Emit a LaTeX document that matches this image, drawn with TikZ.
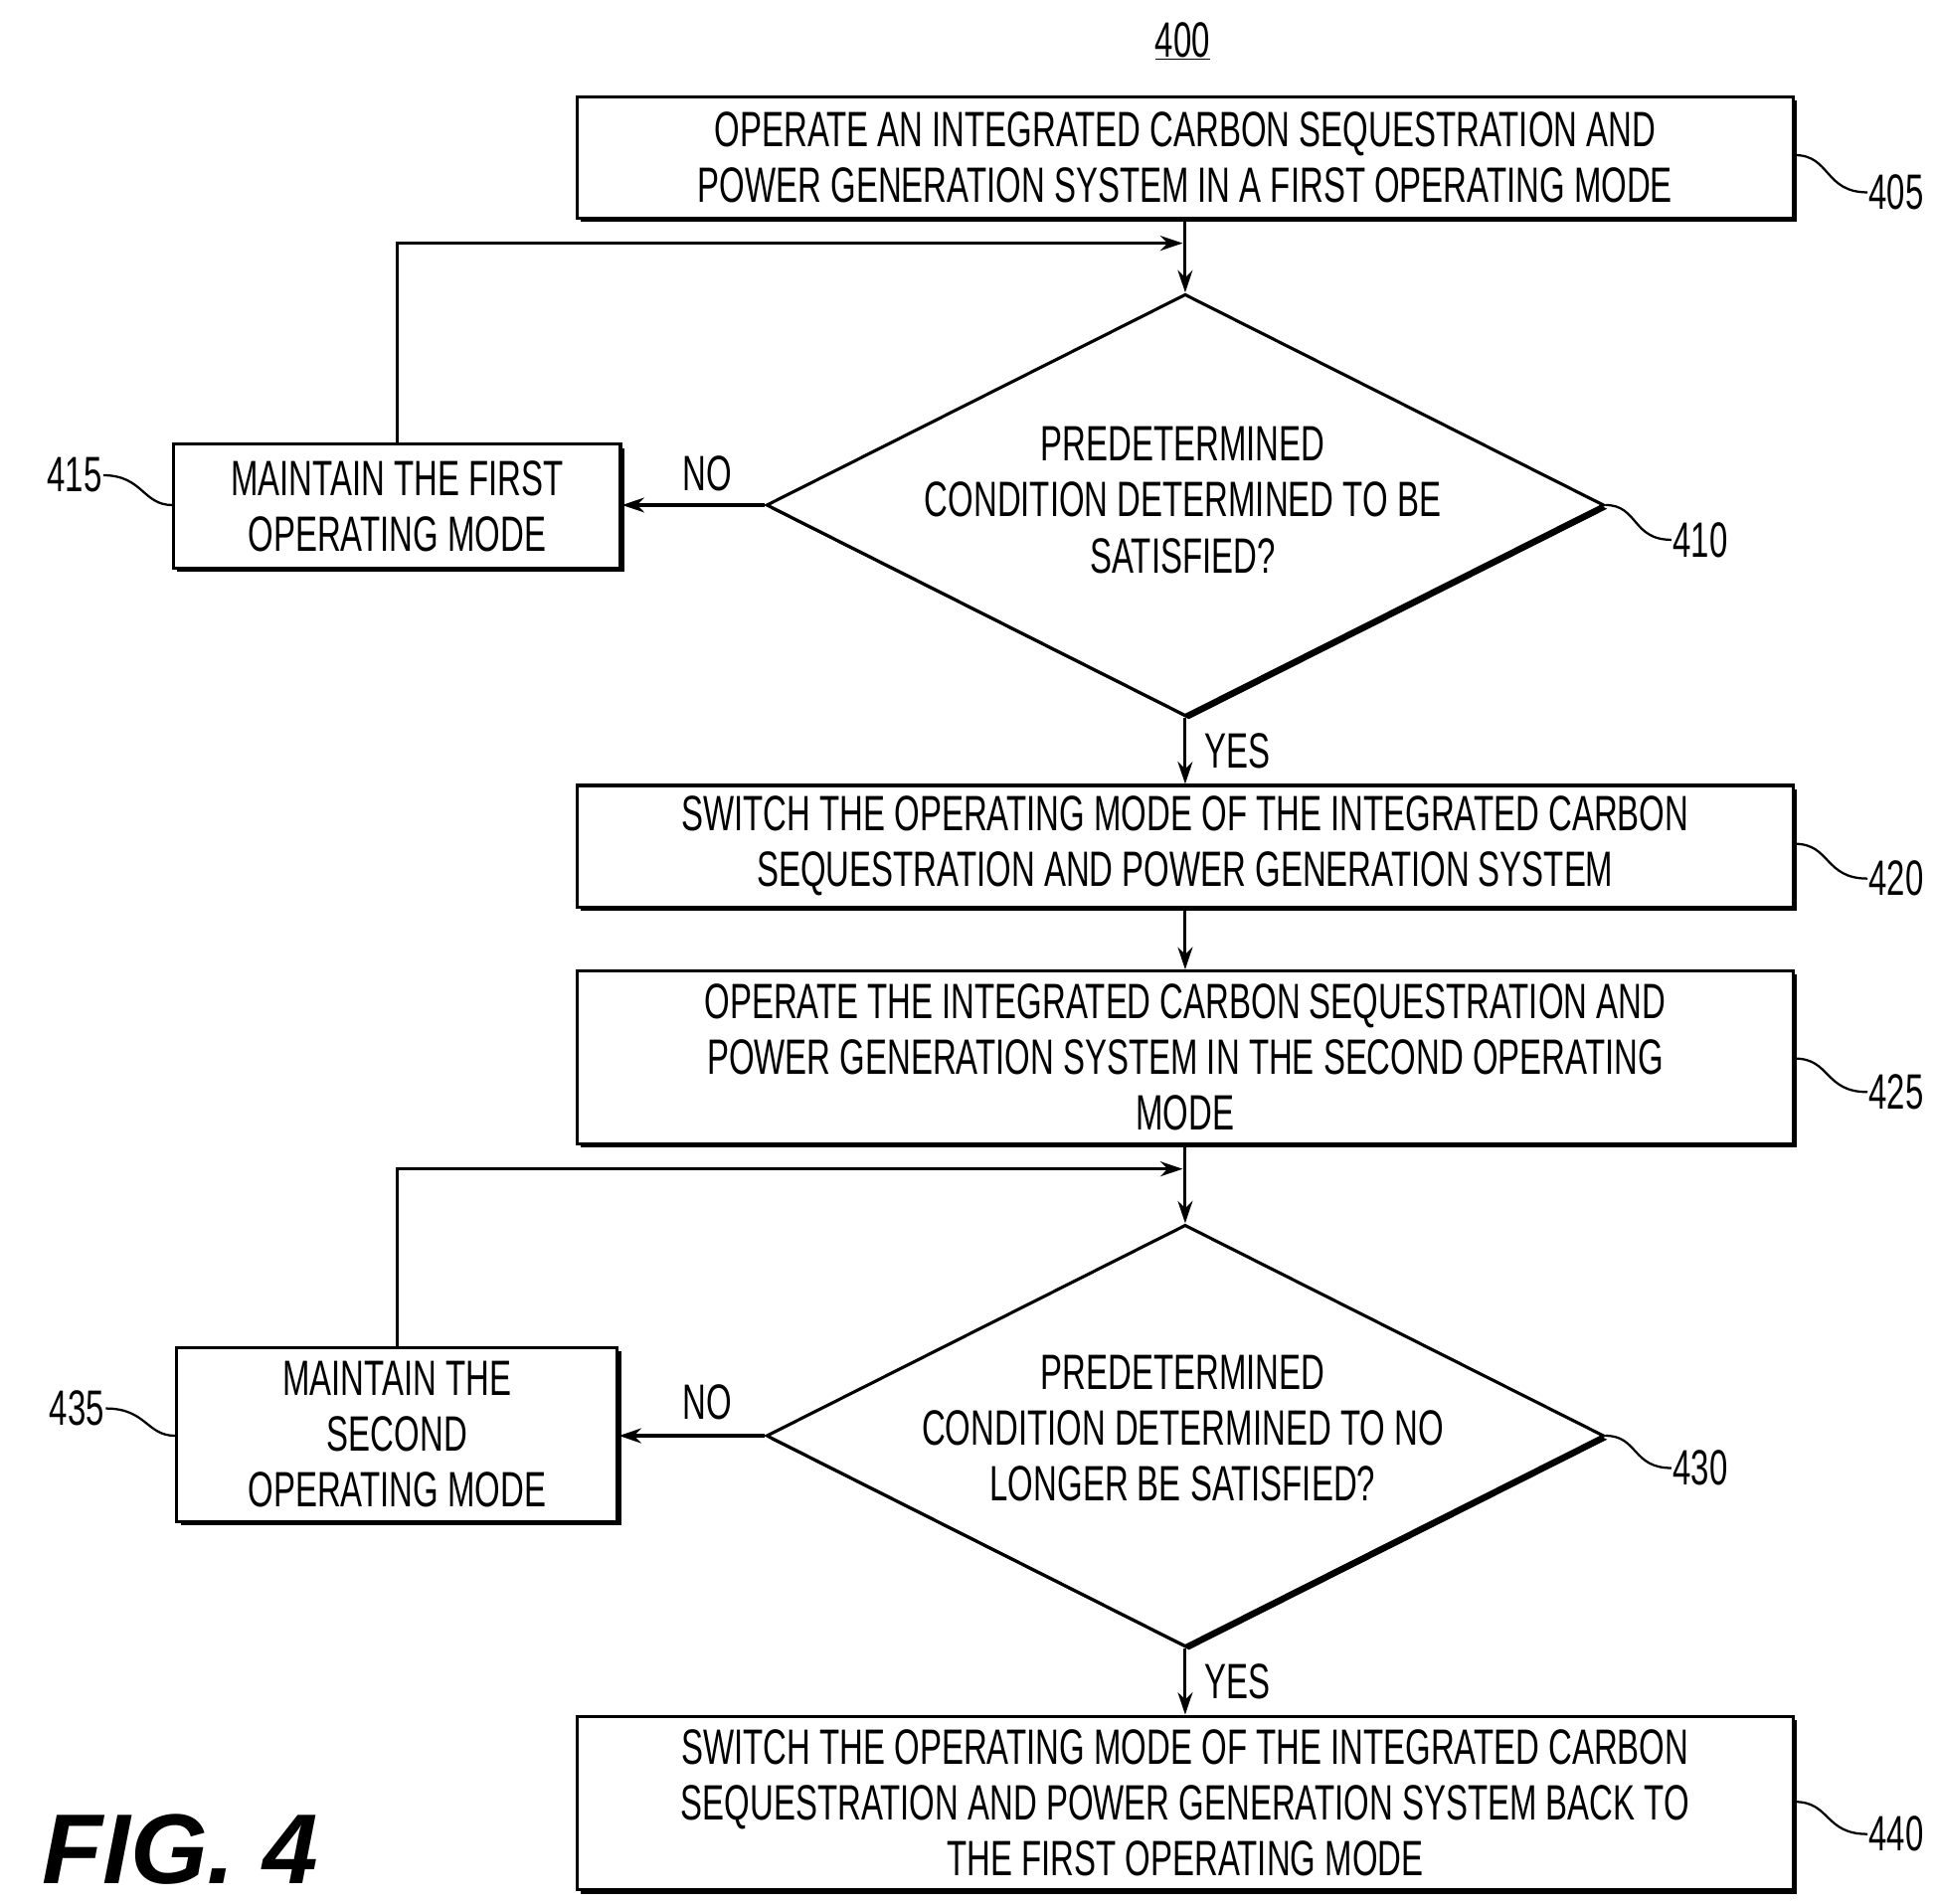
\documentclass[tikz,border=0pt]{standalone}
\usepackage{fontspec}
\setmainfont{Liberation Sans}[FakeStretch=0.66]
\newfontfamily\figfont{Liberation Sans}
\usetikzlibrary{shapes.geometric,shadows,arrows.meta}
\begin{document}
\begin{tikzpicture}[x=1pt,y=-1pt,
  every node/.style={font=\fontsize{40}{45}\selectfont},
  sh/.style={general shadow={shadow xshift=3pt,shadow yshift=-3pt,fill=black}},
  box/.style={draw,line width=2.5pt,fill=white,sh,rectangle,minimum width=980pt,align=center,inner sep=0pt},
  dia/.style={draw,line width=2.5pt,fill=white,sh,diamond,aspect=1.985,minimum width=675pt,minimum height=340pt,inner sep=0pt},
  arr/.style={line width=2.5pt,-{Stealth[length=18pt,width=12pt]}},
  ln/.style={line width=2.5pt},
  lead/.style={line width=1.8pt},
  lbl/.style={inner sep=1pt}]
\useasboundingbox (0,0) rectangle (1560,1534);
\node[inner sep=0] (t400) at (953,33) {\underline{400}};
\node[box,minimum height=98pt] (b405) at (955,127) {OPERATE AN INTEGRATED CARBON SEQUESTRATION AND\\POWER GENERATION SYSTEM IN A FIRST OPERATING MODE};
\node[dia] (d410) at (955,407) {};
\node at (953,403) [align=center] {PREDETERMINED\\CONDITION DETERMINED TO BE\\SATISFIED?};
\node[box,minimum width=360pt,minimum height=100pt] (b415) at (320,408) {MAINTAIN THE FIRST\\OPERATING MODE};
\node[box,minimum height=98pt] (b420) at (955,682) {SWITCH THE OPERATING MODE OF THE INTEGRATED CARBON\\SEQUESTRATION AND POWER GENERATION SYSTEM};
\node[box,minimum height=139pt] (b425) at (955,852) {OPERATE THE INTEGRATED CARBON SEQUESTRATION AND\\POWER GENERATION SYSTEM IN THE SECOND OPERATING\\MODE};
\node[dia] (d430) at (955,1157) {};
\node at (953,1151) [align=center] {PREDETERMINED\\CONDITION DETERMINED TO NO\\LONGER BE SATISFIED?};
\node[box,minimum width=355pt,minimum height=140pt] (b435) at (320,1156) {MAINTAIN THE\\SECOND\\OPERATING MODE};
\node[box,minimum height=140pt] (b440) at (955,1453) {SWITCH THE OPERATING MODE OF THE INTEGRATED CARBON\\SEQUESTRATION AND POWER GENERATION SYSTEM BACK TO\\THE FIRST OPERATING MODE};
% labels
\node[lbl] (l405) at (1528,155) {405};
\node[lbl] (l410) at (1370,435) {410};
\node[lbl] (l415) at (60,383) {415};
\node[lbl] (l420) at (1528,708) {420};
\node[lbl] (l425) at (1528,880) {425};
\node[lbl] (l430) at (1370,1183) {430};
\node[lbl] (l435) at (62,1135) {435};
\node[lbl] (l440) at (1528,1478) {440};
\node (no1) at (570,382) {NO};
\node (no2) at (570,1130) {NO};
\node (yes1) at (997,605) {YES};
\node (yes2) at (997,1355) {YES};
\node[font=\figfont\fontsize{80}{80}\selectfont\bfseries\itshape] (fig) at (145,1490) {FIG. 4};
% leaders
\draw[lead] (b405.east |- 0,125) .. controls (1475,125) and (1470,155) .. (l405.west);
\draw[lead] (b420.east |- 0,680) .. controls (1475,680) and (1470,708) .. (l420.west);
\draw[lead] (b425.east |- 0,853) .. controls (1475,853) and (1470,880) .. (l425.west);
\draw[lead] (b440.east |- 0,1452) .. controls (1475,1452) and (1470,1478) .. (l440.west);
\draw[lead] (d410.east) .. controls (1320,407) and (1315,435) .. (l410.west);
\draw[lead] (d430.east) .. controls (1320,1157) and (1315,1183) .. (l430.west);
\draw[lead] (b415.west |- 0,407) .. controls (115,407) and (115,383) .. (l415.east);
\draw[lead] (b435.west |- 0,1157) .. controls (118,1157) and (118,1135) .. (l435.east);
% connectors
\coordinate (c1) at (953,196);
\coordinate (c2) at (953,942);
\draw[arr] (b405.south -| d410.north) -- (d410.north);
\draw[arr] (b415.north) |- (c1);
\draw[arr] (d410.west) -- (b415.east |- d410.west);
\draw[arr] (d410.south) -- (b420.north -| d410.south);
\draw[arr] (b420.south -| d410.south) -- (b425.north -| d410.south);
\draw[arr] (b425.south -| d430.north) -- (d430.north);
\draw[arr] (b435.north) |- (c2);
\draw[arr] (d430.west) -- (b435.east |- d430.west);
\draw[arr] (d430.south) -- (b440.north -| d430.south);
\end{tikzpicture}
\end{document}
